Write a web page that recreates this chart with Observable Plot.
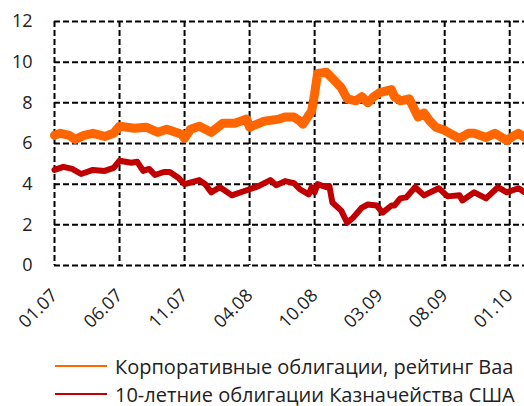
<!DOCTYPE html>
<html><head><meta charset="utf-8">
<script src="https://cdn.jsdelivr.net/npm/d3@7"></script>
<script src="https://cdn.jsdelivr.net/npm/@observablehq/plot@0.6"></script>
<style>
body{margin:0;background:#fff;font-family:"Open Sans",sans-serif;}
#wrap{position:relative;width:524px;height:406px;}
.leg{position:absolute;left:55px;display:flex;align-items:center;font-size:20px;color:#222;white-space:nowrap;}
.sw{width:52px;height:2px;margin-right:8px;}
</style></head><body>
<div id="wrap"><div id="chart"></div></div>
<script>
const tickIdx = [0, 22, 44, 66, 88, 110, 132, 154];
const tickLabels = ["01.07", "06.07", "11.07", "04.08", "10.08", "03.09", "08.09", "01.10"];
const yTicks = [0, 2, 4, 6, 8, 10, 12];
const seriesNames = ["Корпоративные облигации, рейтинг Baa", "10-летние облигации Казначейства США"];
const colors = ["#FF6600", "#C00000"];

const corpWeek = [0,2,5,7,10,13,17,20,22,27,31,35,38,41,43,44,46,49,53,57,61,65,66,71,76,78,81,83,84,87,88,89,92,94,97,99,102,104,106,108,110,114,115,117,120,123,125,127,129,132,135,137,140,142,146,149,153,155,157,159];
const corpVal  = [6.4,6.5,6.4,6.2,6.4,6.5,6.35,6.5,6.85,6.75,6.8,6.55,6.7,6.55,6.45,6.25,6.7,6.85,6.55,7.0,7.0,7.2,6.8,7.1,7.2,7.3,7.3,7.1,6.95,7.6,8.45,9.45,9.5,9.2,8.75,8.2,8.1,8.3,8.0,8.3,8.5,8.65,8.3,8.1,8.2,7.3,7.5,7.1,6.8,6.65,6.4,6.25,6.5,6.5,6.3,6.5,6.15,6.35,6.5,6.3];

const treasWeek = [0,3,6,9,13,17,20,22,26,28,30,32,34,37,39,42,44,49,51,53,56,60,65,69,73,75,78,81,83,86,87,88,89,92,93,94,97,99,101,104,106,109,111,114,115,117,119,122,125,130,133,137,138,142,146,150,153,157,159];
const treasVal  = [4.7,4.85,4.75,4.5,4.7,4.65,4.8,5.15,5.05,5.1,4.65,4.75,4.45,4.6,4.6,4.3,4.0,4.2,4.0,3.6,3.85,3.45,3.7,3.9,4.2,3.95,4.15,4.05,3.75,3.5,3.85,3.6,4.0,3.85,3.9,3.1,2.7,2.1,2.35,2.85,3.0,2.95,2.6,2.95,2.95,3.3,3.35,3.85,3.45,3.8,3.4,3.45,3.2,3.6,3.3,3.85,3.6,3.8,3.6];

const corp = corpWeek.map((w, i) => ({w, v: corpVal[i]}));
const treas = treasWeek.map((w, i) => ({w, v: treasVal[i]}));

const grid = {stroke: "#000", strokeOpacity: 1, strokeWidth: 2, strokeDasharray: "6,3"};

const plot = Plot.plot({
  width: 524, height: 335,
  marginTop: 21, marginBottom: 70, marginLeft: 54, marginRight: 0,
  style: {fontFamily: "Open Sans", fontSize: "18px", color: "#222", background: "#fff"},
  x: {domain: [0, 159], axis: null},
  y: {domain: [0, 12], axis: null},
  marks: [
    Plot.gridY(yTicks, grid),
    Plot.gridX(tickIdx, grid),
    Plot.axisY(yTicks, {tickSize: 0, tickPadding: 22, fontSize: 18, label: null}),
    Plot.axisX(tickIdx, {tickSize: 0, tickPadding: 27, tickRotate: -45, fontSize: 18, label: null,
      tickFormat: d => tickLabels[tickIdx.indexOf(d)]}),
    Plot.line(treas, {x: "w", y: "v", stroke: colors[1], strokeWidth: 6, strokeLinejoin: "round"}),
    Plot.line(corp, {x: "w", y: "v", stroke: colors[0], strokeWidth: 9, strokeLinejoin: "round"})
  ]
});
document.getElementById("chart").appendChild(plot);

const wrap = document.getElementById("wrap");
seriesNames.forEach((name, i) => {
  const row = document.createElement("div");
  row.className = "leg";
  row.style.top = (352 + i * 28) + "px";
  row.style.height = "28px";
  const sw = document.createElement("div");
  sw.className = "sw";
  sw.style.background = colors[i];
  const t = document.createElement("span");
  t.textContent = name;
  row.appendChild(sw); row.appendChild(t);
  wrap.appendChild(row);
});
</script>
</body></html>
